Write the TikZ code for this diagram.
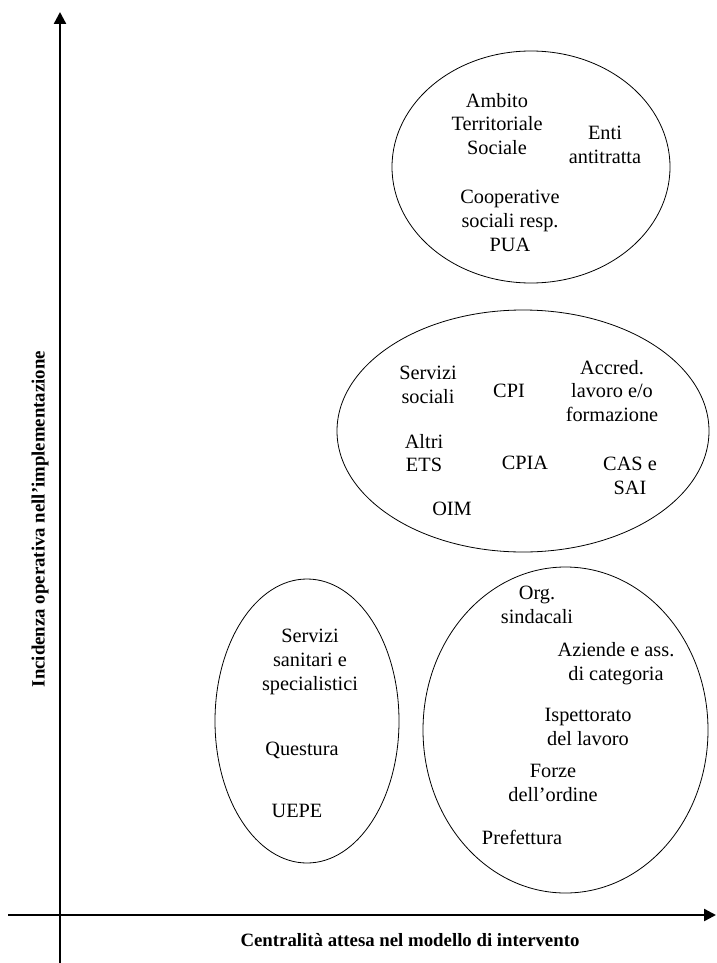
\documentclass[tikz,border=0pt]{standalone}
\usepackage{fontspec}
\setmainfont{Liberation Serif}
\usetikzlibrary{arrows.meta}
\tikzset{
  axis/.style={line width=2.4pt, -{Triangle[width=12pt,length=12pt]}},
  group/.style={draw, line width=0.8pt},
  lbl/.style={align=center, font=\fontsize{20.3}{23.8}\selectfont, inner sep=0pt},
  axlbl/.style={font=\fontsize{18.8}{22}\selectfont\bfseries, inner sep=0pt}
}
\begin{document}
\begin{tikzpicture}[x=1pt,y=-1pt]
\useasboundingbox (0,0) rectangle (716,963);
% axes
\coordinate (yb) at (60,963);
\coordinate (yt) at (60,12);
\coordinate (xl) at (8,915);
\coordinate (xr) at (716,915);
\draw[axis] (yb) -- (yt);
\draw[axis] (xl) -- (xr);
\node[axlbl] (xlab) at (410,940) {Centralità attesa nel modello di intervento};
\node[axlbl, rotate=90] (ylab) at (40,519) {Incidenza operativa nell’implementazione};
% groups
\draw[group] (531,167) ellipse [x radius=139, y radius=116];
\draw[group] (523,431) ellipse [x radius=186, y radius=121];
\draw[group] (307,721) ellipse [x radius=92, y radius=142];
\draw[group] (565.5,730) ellipse [x radius=142.5, y radius=163];
% top group
\node[lbl] (ats) at (497,124) {Ambito\\Territoriale\\Sociale};
\node[lbl] (enti) at (605,145) {Enti\\antitratta};
\node[lbl] (coop) at (510,221) {Cooperative\\sociali resp.\\PUA};
% middle group
\node[lbl] (ss) at (428,385) {Servizi\\sociali};
\node[lbl] (cpi) at (509,391) {CPI};
\node[lbl] (accr) at (612,391) {Accred.\\lavoro e/o\\formazione};
\node[lbl] (ets) at (424,453) {Altri\\ETS};
\node[lbl] (cpia) at (525,463) {CPIA};
\node[lbl] (cas) at (630,476) {CAS e\\SAI};
\node[lbl] (oim) at (452,509) {OIM};
% bottom left group
\node[lbl] (san) at (310,662) {Servizi\\sanitari e\\specialistici};
\node[lbl] (que) at (302,750) {Questura};
\node[lbl] (uepe) at (297,811) {UEPE};
% bottom right group
\node[lbl] (org) at (537,605) {Org.\\sindacali};
\node[lbl] (az) at (616,664) {Aziende e ass.\\di categoria};
\node[lbl] (isp) at (588,727) {Ispettorato\\del lavoro};
\node[lbl] (fo) at (553,783) {Forze\\dell’ordine};
\node[lbl] (pref) at (522,837) {Prefettura};
\end{tikzpicture}
\end{document}
